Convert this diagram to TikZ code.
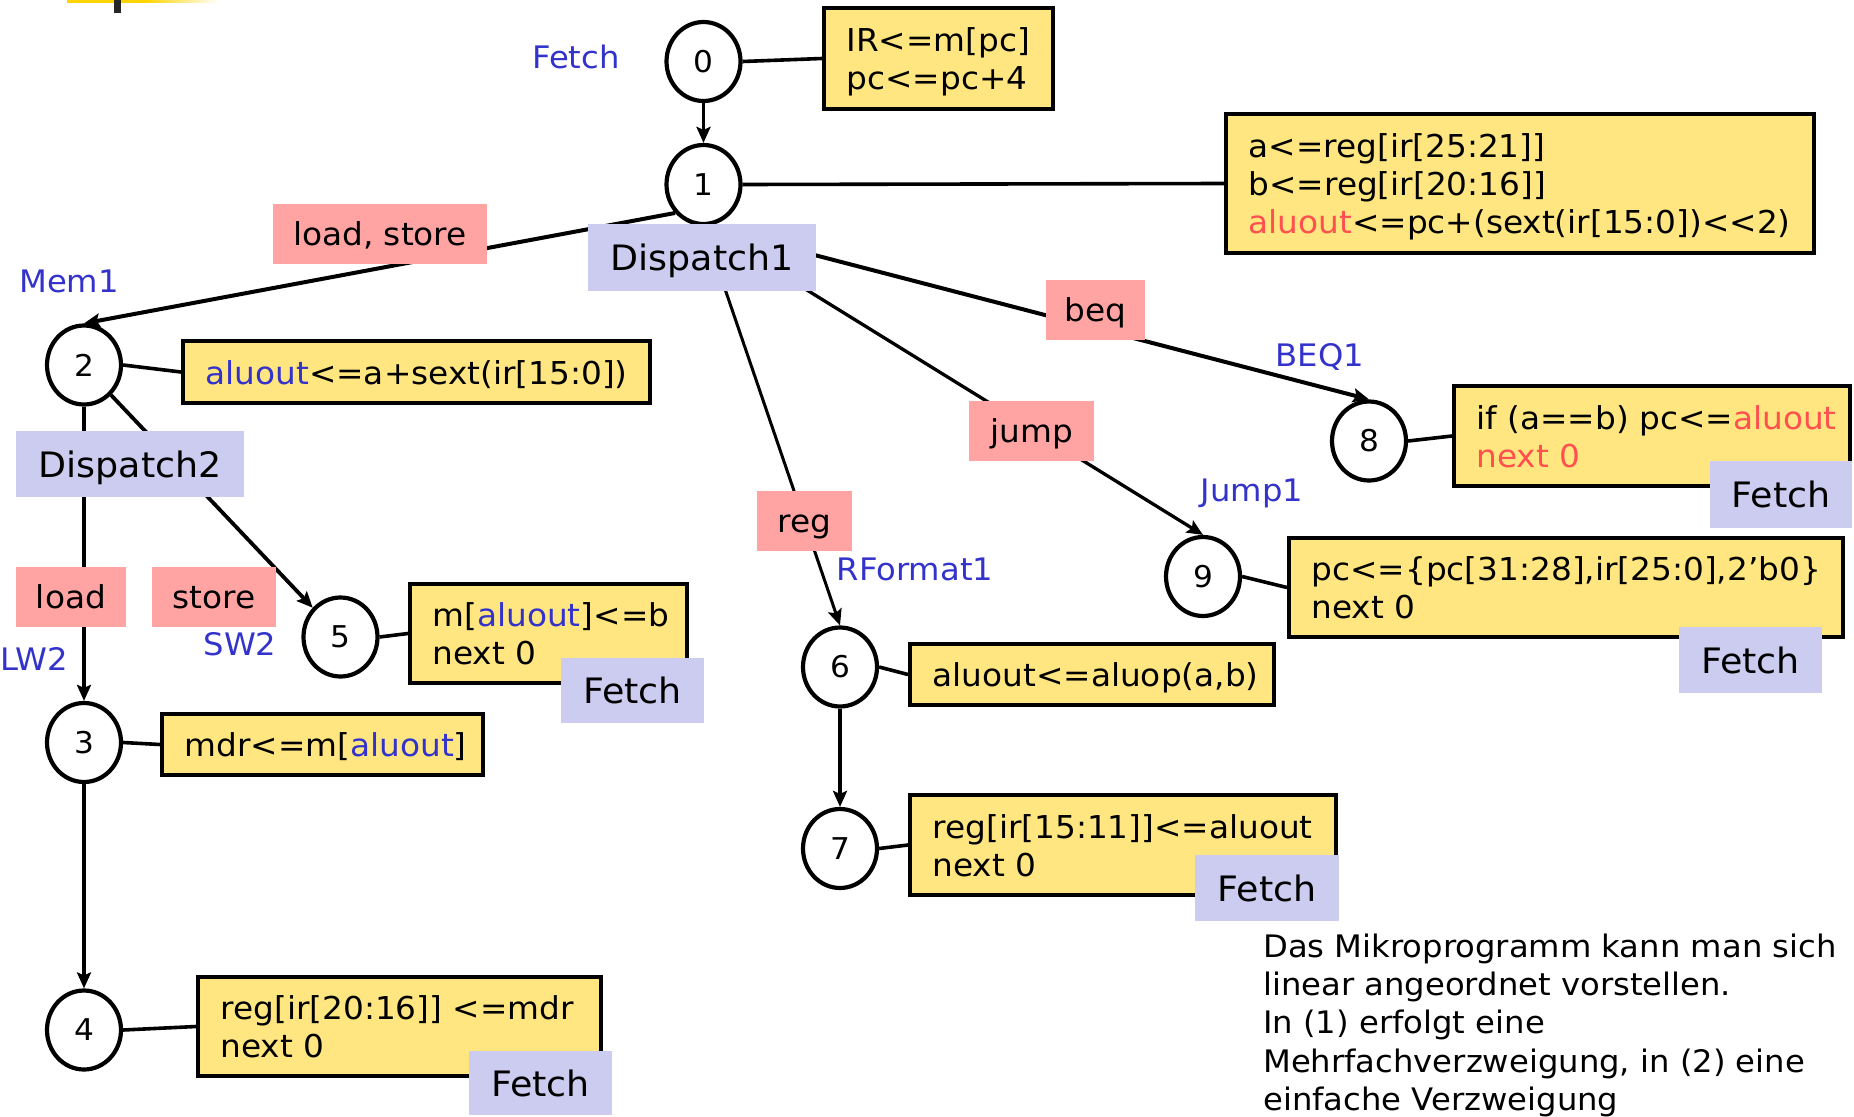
\documentclass[tikz,border=0pt]{standalone}
\usepackage{fontspec}
\setmainfont{DejaVu Sans}[FakeStretch=1.04]
\usetikzlibrary{shapes.geometric,arrows.meta}
\pgfdeclarelayer{bg}
\pgfsetlayers{bg,main}
\definecolor{yfill}{HTML}{FFE680}
\definecolor{lavfill}{HTML}{CCCCF0}
\definecolor{pinkfill}{HTML}{FFA3A3}
\definecolor{bluet}{HTML}{3333CC}
\definecolor{redt}{HTML}{FF5050}
\definecolor{goldbar}{HTML}{FFD400}
\begin{document}
\begin{tikzpicture}[x=1pt,y=-1pt,
  st/.style={draw, ellipse, fill=white, line width=4.2pt, minimum width=74pt, minimum height=79pt, inner sep=0pt, font=\fontsize{30}{34}\selectfont},
  ybox/.style={draw, fill=yfill, line width=4pt, inner xsep=22.5pt, inner ysep=0pt, align=left,
    font=\fontsize{31.5}{38}\selectfont,
    execute at begin node={\rule{0pt}{31.4pt}},
    execute at end node={\rule[-7pt]{0pt}{7pt}}},
  lavbox/.style={fill=lavfill, inner sep=0pt, text height=26.4pt, text depth=0pt, font=\fontsize{35}{40}\selectfont},
  pinkbox/.style={fill=pinkfill, inner sep=0pt, text height=23.6pt, text depth=0pt, font=\fontsize{31.5}{38}\selectfont},
  blab/.style={text=bluet, font=\fontsize{31}{36}\selectfont, inner sep=0pt, anchor=base},
  expl/.style={font=\fontsize{31}{38}\selectfont, inner sep=0pt, anchor=base west},
  edge/.style={line width=3.6pt},
  arr/.style={line width=3.8pt, -{Stealth[length=16pt,width=14pt,inset=3pt]}},
]
\useasboundingbox (0,0) rectangle (1854,1116);

% top-left decoration
\fill[goldbar] (67,0) rectangle (145,3);
\shade[left color=goldbar, right color=white] (145,0) rectangle (219,3);
\fill[black!85] (114,0) rectangle (121,13);

% states
\node[st] (n0) at (703.5,61.5) {0};
\node[st] (n1) at (703.5,184.5) {1};
\node[st] (n2) at (84,365) {2};
\node[st] (n3) at (84,742.5) {3};
\node[st] (n4) at (84,1030) {4};
\node[st] (n5) at (340.5,637) {5};
\node[st] (n6) at (840,667) {6};
\node[st] (n7) at (840,848.5) {7};
\node[st] (n8) at (1369,441) {8};
\node[st] (n9) at (1203,576.5) {9};

% yellow action boxes
\node[ybox, minimum width=229pt, minimum height=101pt, text width=184pt] (b0) at (938.5,58.5) {IR<=m[pc]\\pc<=pc+4};
\node[ybox, minimum width=588pt, minimum height=139pt, text width=543pt] (b1) at (1520,183.5) {a<=reg[ir[25:21]]\\b<=reg[ir[20:16]]\\\textcolor{redt}{aluout}<=pc+(sext(ir[15:0])<\kern0pt<2)};
\node[ybox, minimum width=467pt, minimum height=62pt, text width=422pt] (b2) at (416.5,372) {\textcolor{bluet}{aluout}<=a+sext(ir[15:0])};
\node[ybox, minimum width=277pt, minimum height=99pt, text width=232pt] (b5) at (548.5,633.5) {m[\textcolor{bluet}{aluout}]<=b\\next~0};
\node[ybox, minimum width=321pt, minimum height=61pt, text width=276pt] (b3) at (322.5,744.5) {mdr<=m[\textcolor{bluet}{aluout}]};
\node[ybox, minimum width=403pt, minimum height=99pt, text width=358pt] (b4) at (399.5,1026.5) {reg[ir[20:16]]~<=mdr\\next~0};
\node[ybox, minimum width=396pt, minimum height=100pt, text width=351pt] (b8) at (1652,436) {if~(a==b)~pc<=\textcolor{redt}{aluout}\\\textcolor{redt}{next~0}};
\node[ybox, minimum width=554pt, minimum height=99pt, text width=509pt] (b9) at (1566,587.5) {pc<=\{pc[31:28],ir[25:0],2’b0\}\\next~0};
\node[ybox, minimum width=364pt, minimum height=61pt, text width=319pt] (b6) at (1092,674.5) {aluout<=aluop(a,b)};
\node[ybox, minimum width=426pt, minimum height=100pt, text width=381pt] (b7) at (1123,845) {reg[ir[15:11]]<=aluout\\next~0};

% dispatch / fetch boxes
\node[lavbox, minimum width=228pt, minimum height=67pt] (d1) at (702,257.5) {Dispatch1};
\node[lavbox, minimum width=228pt, minimum height=66pt] (d2) at (130,464) {Dispatch2};
\node[lavbox, minimum width=143pt, minimum height=65pt] (f5) at (632.5,690.5) {Fetch};
\node[lavbox, minimum width=143pt, minimum height=64pt] (f4) at (540.5,1083) {Fetch};
\node[lavbox, minimum width=142pt, minimum height=67pt] (f8) at (1781,494.5) {Fetch};
\node[lavbox, minimum width=143pt, minimum height=66pt] (f9) at (1750.5,660) {Fetch};
\node[lavbox, minimum width=144pt, minimum height=66pt] (f7) at (1267,888) {Fetch};

% condition labels
\node[pinkbox, minimum width=214pt, minimum height=60pt] (cls) at (380,234) {load, store};
\node[pinkbox, minimum width=99pt, minimum height=60pt] (cbeq) at (1095.5,310) {beq};
\node[pinkbox, minimum width=125pt, minimum height=60pt] (cjump) at (1031.5,431) {jump};
\node[pinkbox, minimum width=95pt, minimum height=60pt] (creg) at (804.5,521) {reg};
\node[pinkbox, minimum width=110pt, minimum height=60pt] (cload) at (71,597) {load};
\node[pinkbox, minimum width=124pt, minimum height=60pt] (cstore) at (214,597) {store};

% state names
\node[blab] (lfetch) at (576,68) {Fetch};
\node[blab] (lmem1) at (69,292) {Mem1};
\node[blab] (llw2) at (34,670) {LW2};
\node[blab] (lsw2) at (240,655) {SW2};
\node[blab] (lbeq1) at (1320,366.5) {BEQ1};
\node[blab] (ljump1) at (1252,501.5) {Jump1};
\node[blab] (lrf1) at (915,580) {RFormat1};

% explanation
\node[expl] (t1) at (1263,957) {Das Mikroprogramm kann man sich};
\node[expl] (t2) at (1263,995) {linear angeordnet vorstellen.};
\node[expl] (t3) at (1263,1033.5) {In (1) erfolgt eine};
\node[expl] (t4) at (1263,1072) {Mehrfachverzweigung, in (2) eine};
\node[expl] (t5) at (1263,1110) {einfache Verzweigung};

\begin{pgfonlayer}{bg}
\draw[arr] (n0.south) -- (n1.north);
\draw[arr, line width=4pt] (n1.-135) -- (n2.north);
\draw[arr, line width=4pt] (n1.south) -- (n8.north);
\draw[arr, line width=3.3pt] (n1.south) -- (n9.north);
\draw[arr, line width=3pt] (n1.south) -- (n6.north);
\draw[arr] (n2.south) -- (n3.north);
\draw[arr] (n2.-48) -- (n5);
\draw[arr] (n3.south) -- (n4.north);
\draw[arr] (n6.south) -- (n7.north);
\draw[edge] (n0.east) -- (b0.west);
\draw[edge] (n1.east) -- (b1.west);
\draw[edge] (n2.east) -- (b2.west);
\draw[edge] (n3.east) -- (b3.west);
\draw[edge] (n4.east) -- (b4.west);
\draw[edge] (n5.east) -- (b5.west);
\draw[edge] (n6.east) -- (b6.west);
\draw[edge] (n7.east) -- (b7.west);
\draw[edge] (n8.east) -- (b8.west);
\draw[edge] (n9.east) -- (b9.west);
\end{pgfonlayer}
\end{tikzpicture}
\end{document}
